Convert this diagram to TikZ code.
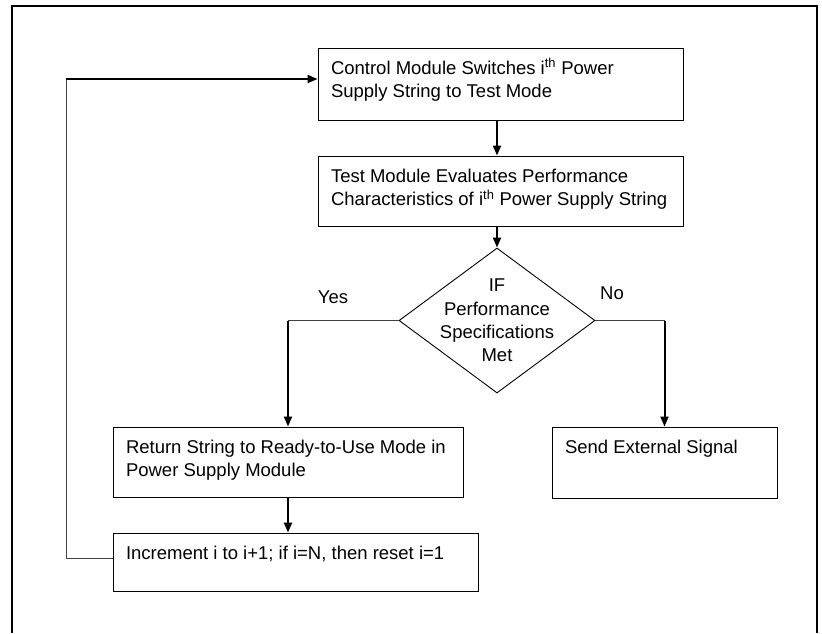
\documentclass[tikz,border=0pt]{standalone}
\usepackage{fontspec}
\setmainfont{Liberation Sans}
\usetikzlibrary{arrows.meta,shapes.geometric}

\newcommand{\boxlines}[3]{\parbox[c][#1][t]{#2}{\begin{tabular}[t]{@{}l@{}}\rule{0pt}{26pt}#3\end{tabular}}}

\begin{document}
\begin{tikzpicture}[x=1pt,y=-1pt,font=\fontsize{18.5}{23.3}\selectfont,
	flowbox/.style={draw,line width=0.9pt,inner xsep=13pt,inner ysep=0pt},
	decision/.style={draw,diamond,line width=0.9pt,minimum width=196pt,minimum height=145pt,inner sep=0pt},
	flow/.style={line width=2pt,-{Triangle[length=10pt,width=8pt]}},
	link/.style={line width=1pt,black!75}]
	%\draw[step=50,gray!20] (0,0) grid (822,633); %Hilfsgitter
	\useasboundingbox (0,0) rectangle (822,633);
	\draw[line width=1.5pt] (12,633) -- (12,6) -- (817,6) -- (817,633);
	
	\node[flowbox] (ctrl) at (500.5,84) {\boxlines{72pt}{339pt}{Control Module Switches i\textsuperscript{th} Power\\Supply String to Test Mode}};
	\node[flowbox] (test) at (500.5,191) {\boxlines{70pt}{339pt}{Test Module Evaluates Performance\\Characteristics of i\textsuperscript{th} Power Supply String}};
	\node[decision,label={[align=center]center:IF\\Performance\\Specifications\\Met}] (dec) at (497,320.5) {};
	\node[flowbox] (ret) at (288,462) {\boxlines{70pt}{324pt}{Return String to Ready-to-Use Mode in\\Power Supply Module}};
	\node[flowbox] (sig) at (664.5,462.5) {\boxlines{71pt}{199pt}{Send External Signal}};
	\node[flowbox] (inc) at (295.5,562) {\boxlines{58pt}{339pt}{Increment i to i+1; if i=N, then reset i=1}};
	\node (yes) at (333,297) {Yes}; \node (no) at (612,293) {No};
	
	\draw[flow] (ctrl.south -| dec.north) -- (test.north -| dec.north); \draw[flow] (test.south -| dec.north) -- (dec.north);
	\coordinate (yesturn) at (dec.west -| ret.north); \coordinate (noturn) at (dec.east -| sig.north);
	\draw[link] (dec.west) -- (yesturn); \draw[flow] (yesturn) -- (ret.north);
	\draw[link] (dec.east) -- (noturn); \draw[flow] (noturn) -- (sig.north);
	\draw[flow] (ret.south) -- (inc.north -| ret.south);
	
	\coordinate (back) at (66,79);
	\draw[link] ([yshift=4pt]inc.west) -| (back); \draw[flow] (back) -- (back -| ctrl.west);
\end{tikzpicture}
\end{document}
